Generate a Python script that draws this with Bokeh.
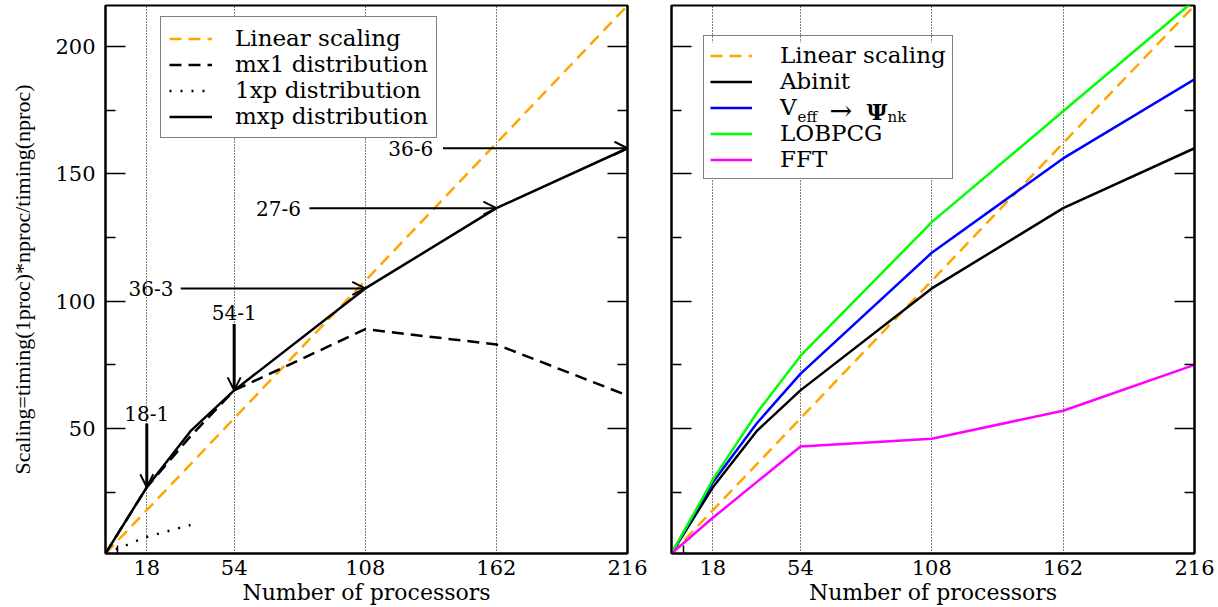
from bokeh.plotting import figure
from bokeh.models import (Range1d, FixedTicker, LinearAxis, Legend, LegendItem,
                          Arrow, OpenHead, Label, BoxAnnotation)
from bokeh.layouts import row
from bokeh.embed import file_html
from bokeh.resources import INLINE

# ---------------- data ----------------
procs = [1, 18, 36, 54, 108, 162, 216]
linear_x = [1, 216]
linear_y = [1, 216]
mx1 = [1, 27, 47, 65, 89, 83, 63]
procs_1xp = [1, 18, 36]
onexp = [1, 7.5, 12.2]
mxp = [1, 27, 49, 65, 105, 136.5, 160]
abinit = [1, 27, 49, 65, 105, 136.5, 160]
veff = [1, 29, 52, 71.5, 119, 156, 187]
lobpcg = [1, 30, 56, 78.5, 131, 174.5, 218]
fft = [1, 15, 29, 43, 46, 57, 75]

x_ticks = [18, 54, 108, 162, 216]
x_minor = [6]
grid_ticks = [18, 54, 108, 162]
y_ticks = [50, 100, 150, 200]
y_minor = [25, 75, 125, 175]

arrow_text = ["18-1", "54-1", "36-3", "27-6", "36-6"]
arrow_tip_x = [18, 54, 108, 162, 216]
arrow_tail_x = [18, 54, 32, 85, 140]
arrow_tail_y = [52, 91, 105, 136.5, 160]
arrow_text_x = [18, 54, 29, 81.5, 136]
arrow_text_y = [56, 95.5, 105, 136.5, 160]
arrow_text_align = ["center", "center", "right", "right", "right"]
arrow_width = [3, 3, 2, 2, 2]

SERIF = "DejaVu Serif"
TIMES = "Liberation Serif"
ORANGE = "#FFA500"
H = 607
XMIN, XMAX, YMIN, YMAX = 1, 216, 1, 216


def make_fig(width, border_left, border_right, ylabels):
    p = figure(width=width, height=H, x_range=Range1d(XMIN, XMAX), y_range=Range1d(YMIN, YMAX),
               output_backend="svg", toolbar_location=None,
               min_border_left=border_left, min_border_right=border_right,
               min_border_top=5, min_border_bottom=0)
    p.background_fill_color = "white"
    p.border_fill_color = "white"
    p.outline_line_color = "black"
    p.outline_line_width = 2
    p.ygrid.visible = False
    p.xgrid.ticker = FixedTicker(ticks=grid_ticks)
    p.xgrid.grid_line_color = "black"
    p.xgrid.grid_line_dash = "1 2"
    p.xgrid.grid_line_width = 1

    xa = p.xaxis[0]
    xa.ticker = FixedTicker(ticks=x_ticks, minor_ticks=x_minor)
    xa.major_tick_in = 0
    xa.major_tick_out = 0
    xa.minor_tick_in = 8
    xa.minor_tick_out = 0
    xa.minor_tick_line_width = 1.5
    xa.axis_line_width = 2
    xa.major_label_text_font = SERIF
    xa.major_label_text_font_size = "21px"
    xa.major_label_text_color = "black"
    xa.major_label_standoff = 6
    xa.axis_label = "Number of processors"
    xa.axis_label_text_font = SERIF
    xa.axis_label_text_font_size = "22px"
    xa.axis_label_text_font_style = "normal"
    xa.axis_label_text_color = "black"
    xa.axis_label_standoff = 2

    ya = p.yaxis[0]
    ya.ticker = FixedTicker(ticks=y_ticks, minor_ticks=y_minor)
    ya.major_tick_in = 20
    ya.major_tick_out = 0
    ya.minor_tick_in = 10
    ya.minor_tick_out = 0
    ya.major_tick_line_width = 1.5
    ya.minor_tick_line_width = 1.5
    ya.axis_line_width = 2
    if ylabels:
        ya.major_label_text_font = SERIF
        ya.major_label_text_font_size = "21px"
        ya.major_label_text_color = "black"
        ya.major_label_standoff = 10
        ya.axis_label = "Scaling=timing(1proc)*nproc/timing(nproc)"
        ya.axis_label_text_font = TIMES
        ya.axis_label_text_font_size = "22px"
        ya.axis_label_text_font_style = "normal"
        ya.axis_label_text_color = "black"
        ya.axis_label_standoff = 17
    else:
        ya.major_label_overrides = {t: "" for t in y_ticks}
        ya.major_label_standoff = 0

    ra = LinearAxis(ticker=FixedTicker(ticks=y_ticks, minor_ticks=y_minor),
                    major_label_overrides={t: "" for t in y_ticks},
                    major_tick_in=20, major_tick_out=0, minor_tick_in=10, minor_tick_out=0,
                    major_tick_line_width=1.5, minor_tick_line_width=1.5,
                    axis_line_width=2, major_label_standoff=0)
    p.add_layout(ra, "right")
    return p


def style_legend(lg):
    lg.border_line_color = "black"
    lg.border_line_width = 1.5
    lg.background_fill_color = "white"
    lg.background_fill_alpha = 1
    lg.label_text_font = SERIF
    lg.label_text_font_size = "23px"
    lg.label_text_color = "black"
    lg.glyph_width = 43
    lg.spacing = 0
    lg.margin = 0


# ---------------- left panel ----------------
p1 = make_fig(649, 105, 22, True)
r_lin = p1.line(linear_x, linear_y, line_color=ORANGE, line_width=2.5, line_dash="12 7")
r_mx1 = p1.line(procs, mx1, line_color="black", line_width=2.5, line_dash="12 7")
r_1xp = p1.line(procs_1xp, onexp, line_color="black", line_width=2.5, line_dash="2 9")
r_mxp = p1.line(procs, mxp, line_color="black", line_width=2.5)

leg1 = Legend(items=[LegendItem(label="Linear scaling", renderers=[r_lin]),
                     LegendItem(label="mx1 distribution", renderers=[r_mx1]),
                     LegendItem(label="1xp distribution", renderers=[r_1xp]),
                     LegendItem(label="mxp distribution", renderers=[r_mxp])],
              location=(55, 415))
style_legend(leg1)
leg1.padding = 8
leg1.glyph_height = 25
leg1.label_height = 25
leg1.label_standoff = 23
p1.add_layout(leg1)

for i, t in enumerate(arrow_text):
    tip_y = mxp[procs.index(arrow_tip_x[i])]
    p1.add_layout(Arrow(x_start=arrow_tail_x[i], y_start=arrow_tail_y[i],
                        x_end=arrow_tip_x[i], y_end=tip_y,
                        line_color="black", line_width=arrow_width[i],
                        end=OpenHead(size=13, line_width=2, line_color="black")))
    p1.add_layout(Label(x=arrow_text_x[i], y=arrow_text_y[i], text=t,
                        text_font=SERIF, text_font_size="20px", text_color="black",
                        text_align=arrow_text_align[i], text_baseline="middle"))

# ---------------- right panel ----------------
FRAME_W2, FRAME_H = 523, 548
p2 = make_fig(569, 22, 24, False)
q_lin = p2.line(linear_x, linear_y, line_color=ORANGE, line_width=2.5, line_dash="12 7")
q_abi = p2.line(procs, abinit, line_color="black", line_width=2.5)
q_vef = p2.line(procs, veff, line_color="#0000FF", line_width=2.5)
q_lob = p2.line(procs, lobpcg, line_color="#00FF00", line_width=2.5)
q_fft = p2.line(procs, fft, line_color="#FF00FF", line_width=2.5)

LX, LY, PAD, ROWH, GW, STAND, LW = 32, 374, 6, 25, 42, 28, 242
sx_per_px = (XMAX - XMIN) / FRAME_W2
sy_per_px = (YMAX - YMIN) / FRAME_H

# white backing box for the (transparent) legend, so the extra label pieces can show
p2.add_layout(BoxAnnotation(left=XMIN + LX * sx_per_px, right=XMIN + (LX + LW) * sx_per_px,
                            bottom=YMIN + LY * sy_per_px,
                            top=YMIN + (LY + 5 * ROWH + 2 * PAD) * sy_per_px,
                            fill_color="white", fill_alpha=1, line_alpha=0))

row_px = LY + 5 * ROWH + 2 * PAD - PAD - 2.5 * ROWH
text_px = LX + PAD + GW + STAND
for dx, dy, txt, size, style in [(18, -6, "eff", "15px", "normal"),
                                 (50, 1, "\u2192", "27px", "normal"),
                                 (87, 0, "\u03a8", "23px", "bold"),
                                 (108, -6, "nk", "15px", "normal")]:
    p2.add_layout(Label(x=XMIN + (text_px + dx) * sx_per_px,
                        y=YMIN + (row_px + dy) * sy_per_px,
                        text=txt, text_font=SERIF, text_font_size=size,
                        text_font_style=style, text_color="black",
                        text_baseline="middle", text_align="left"))

leg2 = Legend(items=[LegendItem(label="Linear scaling", renderers=[q_lin]),
                     LegendItem(label="Abinit", renderers=[q_abi]),
                     LegendItem(label="V", renderers=[q_vef]),
                     LegendItem(label="LOBPCG", renderers=[q_lob]),
                     LegendItem(label="FFT", renderers=[q_fft])],
              location=(LX, LY))
style_legend(leg2)
leg2.background_fill_alpha = 0
leg2.padding = PAD
leg2.glyph_height = ROWH
leg2.label_height = ROWH
leg2.glyph_width = GW
leg2.label_standoff = STAND
p2.add_layout(leg2)

layout = row(p1, p2)
open("out.html", "w").write(file_html(layout, INLINE))
